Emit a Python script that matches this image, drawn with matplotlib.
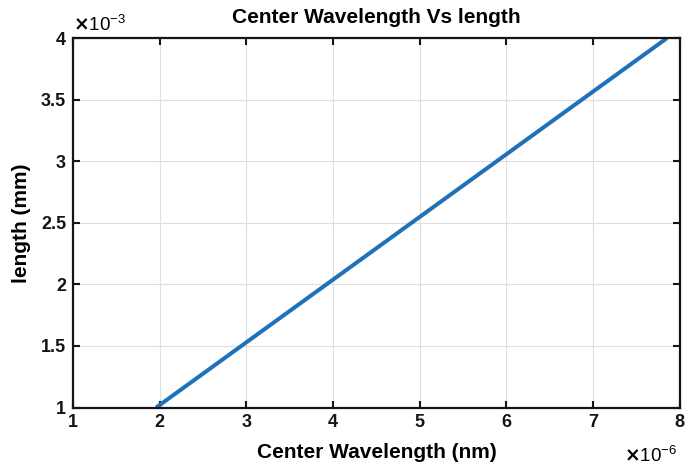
import numpy as np
import matplotlib.pyplot as plt
from matplotlib.ticker import FuncFormatter

plt.rcParams['font.family'] = ['Liberation Sans', 'DejaVu Sans']
plt.rcParams['font.weight'] = 'bold'

# data
wavelength = np.array([1.96e-6, 7.85e-6])
length = np.array([1.0e-3, 4.0e-3])

xticks = [1, 2, 3, 4, 5, 6, 7, 8]
yticks = [1, 1.5, 2, 2.5, 3, 3.5, 4]

fig = plt.figure(figsize=(6.86, 4.66), dpi=100)
ax = fig.add_axes([0.1064, 0.1255, 0.8846, 0.7925])

ax.plot(wavelength, length, color='#1f72b8', lw=2.9, solid_capstyle='butt')

ax.set_xlim(1e-6, 8e-6)
ax.set_ylim(1e-3, 4e-3)
ax.set_xticks([v * 1e-6 for v in xticks])
ax.set_yticks([v * 1e-3 for v in yticks])
ax.xaxis.set_major_formatter(FuncFormatter(lambda v, p: f'{v / 1e-6:g}'))
ax.yaxis.set_major_formatter(FuncFormatter(lambda v, p: f'{v / 1e-3:g}'))

ax.grid(True, color='#dedede', lw=0.8)
ax.set_axisbelow(True)
ax.tick_params(direction='in', length=5, width=1.5, labelsize=13,
               top=True, right=True, colors='#151515', pad=5)
for s in ax.spines.values():
    s.set_linewidth(1.6)
    s.set_color('#151515')

ax.set_title('Center Wavelength Vs length', fontsize=15, fontweight='bold', pad=11)
ax.set_xlabel('Center Wavelength (nm)', fontsize=15, fontweight='bold', labelpad=8)
ax.set_ylabel('length (mm)', fontsize=15, fontweight='bold', labelpad=7)

fig.text(0.106, 0.925, r'$\times$10$^{\mathregular{-3}}$', fontsize=13.5,
         fontweight='normal', ha='left', va='bottom')
fig.text(0.987, 0.0, r'$\times$10$^{\mathregular{-6}}$', fontsize=13.5,
         fontweight='normal', ha='right', va='bottom')

fig.savefig('out.png', dpi=100)
